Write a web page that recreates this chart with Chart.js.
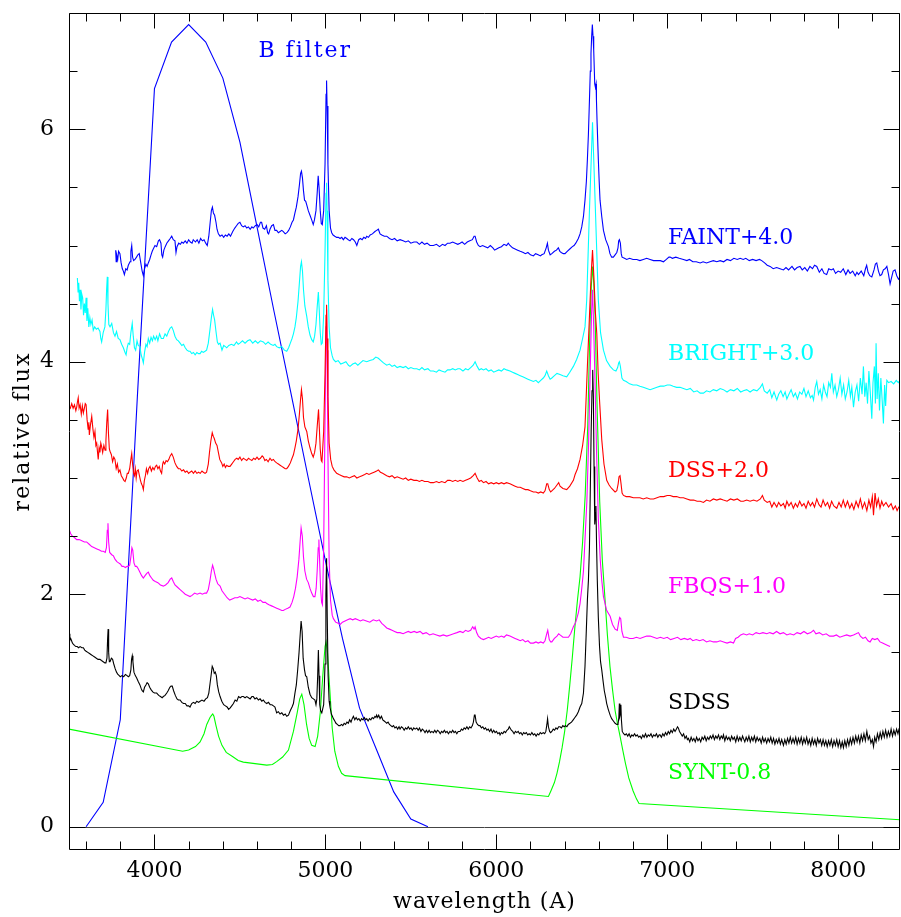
<!DOCTYPE html>
<html>
<head>
<meta charset="utf-8">
<script src="https://cdn.jsdelivr.net/npm/chart.js@4.4.1/dist/chart.umd.min.js"></script>
<style>
html,body{margin:0;padding:0;background:#fff;}
canvas{display:block;}
</style>
</head>
<body>
<canvas id="c" width="901" height="917"></canvas>
<script>
// ---- data: [wavelength (A), relative flux] ----
const faint = [[3773,4.96],[3776,4.86],[3779,4.92],[3785,4.88],[3790,4.95],[3798,4.93],[3805,4.85],[3812,4.80],[3818,4.78],[3824,4.75],[3832,4.80],[3840,4.79],[3847,4.83],[3857,4.86],[3862,4.95],[3867,5.00],[3872,4.90],[3878,4.87],[3886,4.88],[3895,4.90],[3903,4.92],[3911,4.93],[3920,4.85],[3928,4.78],[3935,4.74],[3942,4.80],[3950,4.84],[3957,4.82],[3964,4.85],[3972,4.88],[3980,4.92],[3987,4.95],[3993,4.97],[4003,5.00],[4013,4.99],[4023,5.04],[4030,5.05],[4038,5.02],[4043,4.92],[4048,4.90],[4055,4.96],[4063,4.99],[4072,5.02],[4082,5.04],[4092,5.06],[4101,5.08],[4110,5.05],[4120,5.04],[4126,4.94],[4132,4.99],[4142,5.02],[4152,5.01],[4160,5.03],[4169,5.02],[4180,5.04],[4190,5.02],[4200,5.05],[4210,5.03],[4220,5.02],[4227,5.05],[4240,5.03],[4250,5.05],[4260,5.02],[4270,5.06],[4280,5.04],[4290,5.05],[4300,5.02],[4309,5.00],[4318,5.08],[4326,5.20],[4333,5.30],[4339,5.33],[4345,5.28],[4352,5.26],[4360,5.20],[4366,5.14],[4374,5.10],[4384,5.08],[4395,5.09],[4405,5.07],[4415,5.09],[4425,5.08],[4435,5.10],[4445,5.08],[4458,5.12],[4470,5.15],[4480,5.17],[4490,5.19],[4500,5.20],[4510,5.17],[4520,5.16],[4530,5.17],[4540,5.15],[4550,5.16],[4560,5.14],[4570,5.16],[4578,5.15],[4590,5.17],[4600,5.18],[4610,5.16],[4620,5.20],[4627,5.20],[4635,5.15],[4645,5.14],[4655,5.17],[4662,5.11],[4668,5.10],[4676,5.14],[4686,5.17],[4696,5.18],[4705,5.13],[4715,5.13],[4725,5.11],[4735,5.12],[4745,5.13],[4754,5.12],[4765,5.10],[4775,5.11],[4785,5.13],[4795,5.16],[4805,5.20],[4813,5.22],[4822,5.28],[4830,5.33],[4840,5.42],[4848,5.52],[4855,5.62],[4860,5.64],[4866,5.58],[4872,5.47],[4878,5.39],[4885,5.38],[4891,5.35],[4900,5.30],[4910,5.26],[4920,5.22],[4929,5.18],[4936,5.22],[4945,5.30],[4952,5.45],[4958,5.60],[4963,5.50],[4970,5.30],[4976,5.19],[4982,5.18],[4990,5.30],[4998,5.70],[5004,6.30],[5007,6.42],[5010,6.20],[5015,5.70],[5022,5.30],[5030,5.15],[5037,5.11],[5045,5.09],[5055,5.08],[5066,5.07],[5076,5.07],[5086,5.06],[5096,5.07],[5105,5.05],[5115,5.07],[5125,5.06],[5134,5.05],[5144,5.04],[5155,5.06],[5165,5.05],[5175,5.03],[5184,5.00],[5195,5.05],[5205,5.06],[5215,5.05],[5225,5.07],[5235,5.06],[5242,5.08],[5252,5.07],[5262,5.09],[5275,5.10],[5290,5.12],[5300,5.13],[5310,5.14],[5320,5.10],[5330,5.09],[5345,5.08],[5359,5.08],[5375,5.06],[5390,5.05],[5405,5.06],[5420,5.04],[5437,5.05],[5455,5.04],[5470,5.03],[5485,5.04],[5500,5.02],[5518,5.03],[5535,5.03],[5550,5.01],[5565,5.03],[5580,5.01],[5595,5.02],[5612,5.00],[5632,5.00],[5650,5.01],[5668,4.99],[5685,5.01],[5700,5.00],[5715,5.02],[5729,5.02],[5745,5.03],[5760,5.02],[5775,5.01],[5788,5.02],[5800,5.03],[5815,5.01],[5830,5.03],[5845,5.04],[5860,5.05],[5870,5.08],[5876,5.08],[5885,5.03],[5895,5.00],[5905,4.99],[5920,5.00],[5935,4.99],[5950,4.98],[5965,5.00],[5980,4.98],[5990,4.96],[6002,4.97],[6015,4.98],[6030,4.99],[6045,5.01],[6060,5.00],[6070,5.02],[6080,5.00],[6095,4.98],[6110,4.97],[6125,4.96],[6140,4.95],[6158,4.94],[6170,4.93],[6185,4.94],[6200,4.92],[6217,4.91],[6230,4.93],[6245,4.92],[6258,4.91],[6266,4.92],[6280,4.93],[6292,4.98],[6299,5.02],[6305,4.96],[6315,4.92],[6325,4.93],[6340,4.95],[6352,4.96],[6363,4.98],[6372,4.95],[6380,4.94],[6392,4.93],[6402,4.93],[6415,4.95],[6430,4.97],[6445,4.99],[6455,5.00],[6465,5.02],[6480,5.06],[6490,5.10],[6500,5.16],[6510,5.25],[6519,5.39],[6527,5.55],[6533,5.74],[6539,5.96],[6545,6.25],[6550,6.50],[6554,6.65],[6558,6.80],[6562,6.90],[6566,6.80],[6570,6.68],[6576,6.39],[6580,6.36],[6584,6.39],[6586,6.25],[6590,6.05],[6597,5.74],[6602,5.55],[6607,5.39],[6617,5.25],[6627,5.13],[6640,5.05],[6656,4.99],[6665,4.93],[6675,4.90],[6685,4.90],[6695,4.92],[6705,4.94],[6712,4.98],[6716,5.04],[6720,5.05],[6726,5.02],[6731,4.93],[6736,4.90],[6750,4.89],[6763,4.88],[6780,4.89],[6800,4.88],[6822,4.88],[6840,4.87],[6860,4.88],[6880,4.89],[6900,4.88],[6920,4.87],[6940,4.87],[6960,4.87],[6978,4.86],[6995,4.88],[7010,4.90],[7017,4.90],[7030,4.89],[7050,4.90],[7070,4.89],[7095,4.88],[7115,4.87],[7130,4.88],[7150,4.86],[7170,4.86],[7193,4.85],[7210,4.86],[7230,4.85],[7250,4.86],[7270,4.87],[7290,4.86],[7310,4.87],[7330,4.86],[7350,4.88],[7370,4.87],[7390,4.89],[7410,4.88],[7427,4.89],[7445,4.88],[7460,4.89],[7480,4.87],[7500,4.88],[7520,4.87],[7540,4.88],[7553,4.87],[7570,4.85],[7585,4.83],[7602,4.82],[7620,4.80],[7640,4.81],[7660,4.80],[7680,4.79],[7695,4.81],[7710,4.79],[7730,4.82],[7745,4.79],[7760,4.81],[7777,4.82],[7790,4.79],[7805,4.81],[7820,4.78],[7835,4.82],[7850,4.80],[7862,4.83],[7875,4.82],[7890,4.77],[7905,4.80],[7918,4.76],[7933,4.75],[7945,4.80],[7960,4.79],[7972,4.80],[7985,4.76],[8000,4.78],[8015,4.77],[8030,4.80],[8045,4.75],[8058,4.79],[8070,4.76],[8085,4.78],[8100,4.74],[8110,4.77],[8119,4.75],[8135,4.78],[8150,4.74],[8160,4.80],[8167,4.83],[8175,4.77],[8185,4.74],[8197,4.73],[8210,4.79],[8218,4.84],[8226,4.85],[8236,4.78],[8245,4.74],[8255,4.75],[8265,4.79],[8275,4.80],[8285,4.82],[8295,4.75],[8304,4.67],[8312,4.72],[8322,4.78],[8333,4.79],[8343,4.74],[8353,4.71],[8362,4.73]];

const bright = [[3549,4.72],[3553,4.60],[3557,4.68],[3561,4.52],[3565,4.62],[3570,4.45],[3575,4.58],[3580,4.55],[3585,4.40],[3590,4.50],[3595,4.42],[3600,4.55],[3605,4.35],[3610,4.46],[3616,4.30],[3622,4.38],[3628,4.32],[3635,4.36],[3642,4.27],[3650,4.30],[3660,4.28],[3670,4.29],[3681,4.26],[3686,4.20],[3691,4.17],[3700,4.25],[3710,4.30],[3716,4.45],[3720,4.62],[3724,4.73],[3728,4.50],[3733,4.32],[3740,4.30],[3750,4.33],[3760,4.25],[3769,4.22],[3778,4.26],[3788,4.20],[3798,4.19],[3808,4.15],[3818,4.12],[3828,4.08],[3834,4.06],[3840,4.12],[3847,4.16],[3855,4.15],[3862,4.25],[3870,4.33],[3876,4.22],[3883,4.12],[3890,4.10],[3898,4.18],[3905,4.14],[3915,4.13],[3922,4.06],[3930,4.02],[3935,3.99],[3942,4.08],[3950,4.15],[3957,4.13],[3964,4.20],[3972,4.16],[3980,4.21],[3988,4.18],[3995,4.22],[4004,4.19],[4013,4.22],[4020,4.18],[4030,4.24],[4040,4.20],[4052,4.20],[4062,4.24],[4072,4.22],[4082,4.26],[4092,4.29],[4101,4.30],[4110,4.27],[4120,4.22],[4130,4.19],[4140,4.18],[4150,4.16],[4160,4.14],[4170,4.15],[4180,4.12],[4190,4.10],[4200,4.09],[4208,4.09],[4218,4.07],[4228,4.08],[4238,4.06],[4248,4.08],[4258,4.07],[4267,4.07],[4276,4.09],[4286,4.08],[4296,4.09],[4305,4.10],[4315,4.16],[4325,4.28],[4333,4.38],[4340,4.45],[4346,4.40],[4352,4.36],[4360,4.26],[4368,4.17],[4375,4.15],[4384,4.16],[4395,4.10],[4405,4.14],[4415,4.13],[4423,4.12],[4435,4.14],[4450,4.15],[4465,4.14],[4480,4.17],[4490,4.15],[4500,4.16],[4515,4.18],[4530,4.16],[4545,4.18],[4559,4.19],[4575,4.16],[4590,4.18],[4605,4.16],[4620,4.18],[4637,4.17],[4650,4.15],[4665,4.17],[4680,4.15],[4695,4.14],[4705,4.15],[4715,4.13],[4730,4.12],[4745,4.13],[4760,4.10],[4774,4.09],[4785,4.12],[4795,4.16],[4805,4.20],[4813,4.24],[4822,4.30],[4830,4.38],[4840,4.52],[4848,4.68],[4855,4.82],[4860,4.86],[4866,4.78],[4872,4.62],[4880,4.48],[4891,4.39],[4900,4.30],[4910,4.23],[4920,4.19],[4929,4.17],[4937,4.22],[4945,4.32],[4952,4.47],[4959,4.60],[4964,4.45],[4970,4.25],[4976,4.15],[4982,4.16],[4990,4.40],[4998,4.95],[5004,5.45],[5007,5.54],[5010,5.30],[5015,4.70],[5022,4.30],[5030,4.12],[5040,4.05],[5047,4.02],[5060,4.00],[5075,4.01],[5090,3.98],[5105,3.99],[5120,4.00],[5135,3.97],[5144,3.96],[5160,3.98],[5175,3.99],[5190,3.97],[5205,3.99],[5220,4.01],[5242,4.00],[5260,4.01],[5280,4.02],[5295,4.04],[5310,4.03],[5325,4.01],[5340,3.99],[5359,3.97],[5375,3.98],[5390,3.96],[5405,3.97],[5420,3.95],[5437,3.96],[5455,3.95],[5470,3.96],[5485,3.94],[5500,3.95],[5518,3.94],[5535,3.94],[5550,3.93],[5565,3.95],[5580,3.93],[5600,3.94],[5615,3.92],[5632,3.92],[5650,3.91],[5665,3.93],[5680,3.92],[5700,3.91],[5715,3.93],[5729,3.93],[5745,3.94],[5760,3.93],[5775,3.94],[5788,3.94],[5805,3.92],[5820,3.94],[5835,3.93],[5850,3.95],[5865,3.97],[5876,4.00],[5888,3.96],[5900,3.93],[5912,3.94],[5925,3.93],[5940,3.94],[5955,3.92],[5970,3.93],[5985,3.91],[6000,3.92],[6015,3.93],[6030,3.92],[6045,3.94],[6060,3.93],[6080,3.92],[6095,3.91],[6110,3.90],[6125,3.89],[6140,3.88],[6155,3.87],[6170,3.86],[6185,3.85],[6200,3.84],[6217,3.83],[6232,3.84],[6246,3.82],[6260,3.84],[6275,3.86],[6285,3.88],[6295,3.92],[6305,3.88],[6315,3.85],[6325,3.86],[6340,3.88],[6355,3.90],[6373,3.89],[6390,3.88],[6412,3.87],[6430,3.91],[6451,3.96],[6470,4.02],[6490,4.10],[6505,4.20],[6519,4.30],[6529,4.53],[6545,5.30],[6563,6.06],[6580,5.30],[6597,4.53],[6610,4.25],[6627,4.10],[6645,4.01],[6666,3.96],[6685,3.93],[6700,3.92],[6710,3.95],[6716,3.99],[6720,4.00],[6726,3.96],[6735,3.86],[6744,3.84],[6760,3.83],[6780,3.81],[6800,3.80],[6822,3.80],[6840,3.79],[6860,3.78],[6880,3.77],[6900,3.76],[6920,3.77],[6940,3.78],[6960,3.79],[6980,3.79],[7000,3.80],[7017,3.80],[7035,3.79],[7055,3.78],[7075,3.78],[7095,3.77],[7115,3.76],[7135,3.77],[7155,3.74],[7175,3.75],[7193,3.73],[7212,3.73],[7230,3.75],[7250,3.74],[7270,3.76],[7290,3.75],[7310,3.77],[7329,3.76],[7350,3.74],[7370,3.76],[7390,3.75],[7410,3.77],[7430,3.74],[7446,3.75],[7465,3.76],[7485,3.74],[7505,3.76],[7525,3.75],[7545,3.78],[7557,3.81],[7568,3.75],[7585,3.73],[7600,3.76],[7612,3.69],[7625,3.74],[7641,3.67],[7652,3.72],[7665,3.75],[7678,3.70],[7690,3.74],[7700,3.68],[7712,3.72],[7725,3.76],[7738,3.70],[7750,3.73],[7762,3.68],[7775,3.74],[7788,3.72],[7800,3.77],[7812,3.70],[7825,3.75],[7838,3.69],[7848,3.71],[7856,3.67],[7866,3.78],[7875,3.83],[7885,3.72],[7895,3.76],[7905,3.68],[7915,3.80],[7925,3.74],[7935,3.70],[7945,3.82],[7955,3.78],[7963,3.90],[7972,3.74],[7982,3.80],[7992,3.70],[8002,3.76],[8012,3.86],[8022,3.72],[8032,3.80],[8042,3.68],[8052,3.74],[8062,3.84],[8072,3.70],[8080,3.78],[8090,3.61],[8100,3.74],[8110,3.80],[8120,3.66],[8130,3.86],[8140,3.72],[8148,3.96],[8156,3.70],[8164,3.82],[8172,3.64],[8180,3.92],[8188,3.74],[8197,3.51],[8204,3.82],[8212,3.96],[8218,3.64],[8222,4.16],[8228,3.68],[8235,3.90],[8242,3.58],[8250,3.86],[8258,3.66],[8265,3.47],[8272,3.80],[8278,3.62],[8285,3.84],[8295,3.82],[8310,3.83],[8325,3.81],[8340,3.84],[8352,3.82],[8362,3.84]];

const dss = [[3500,3.62],[3508,3.60],[3516,3.64],[3524,3.60],[3532,3.63],[3540,3.58],[3545,3.61],[3550,3.66],[3554,3.69],[3559,3.60],[3565,3.63],[3572,3.55],[3578,3.62],[3584,3.56],[3590,3.60],[3595,3.64],[3600,3.63],[3606,3.50],[3612,3.42],[3616,3.48],[3619,3.37],[3625,3.45],[3633,3.53],[3640,3.42],[3646,3.35],[3652,3.40],[3657,3.28],[3662,3.30],[3667,3.22],[3671,3.16],[3676,3.26],[3681,3.22],[3686,3.30],[3691,3.27],[3697,3.22],[3704,3.28],[3711,3.24],[3716,3.32],[3721,3.48],[3726,3.59],[3731,3.38],[3736,3.25],[3740,3.23],[3748,3.20],[3755,3.14],[3762,3.18],[3769,3.16],[3776,3.08],[3783,3.12],[3790,3.05],[3798,3.07],[3806,3.02],[3814,3.00],[3821,2.98],[3828,2.97],[3835,3.00],[3841,3.04],[3847,3.04],[3855,3.08],[3862,3.16],[3867,3.21],[3872,3.12],[3878,3.04],[3883,3.02],[3888,3.08],[3893,3.00],[3898,3.06],[3905,3.07],[3912,3.02],[3918,2.98],[3924,2.95],[3930,2.93],[3935,2.90],[3941,2.98],[3947,3.02],[3953,3.08],[3960,3.04],[3966,3.08],[3974,3.10],[3982,3.06],[3990,3.09],[3998,3.07],[4006,3.10],[4013,3.11],[4020,3.08],[4028,3.10],[4035,3.06],[4042,3.04],[4048,3.12],[4052,3.14],[4060,3.12],[4068,3.15],[4076,3.14],[4084,3.16],[4092,3.19],[4101,3.21],[4110,3.18],[4120,3.13],[4130,3.10],[4140,3.08],[4150,3.08],[4160,3.06],[4170,3.07],[4180,3.05],[4190,3.06],[4200,3.04],[4208,3.05],[4218,3.06],[4228,3.04],[4238,3.06],[4248,3.04],[4258,3.05],[4268,3.04],[4278,3.06],[4286,3.05],[4296,3.04],[4305,3.05],[4315,3.12],[4322,3.22],[4330,3.32],[4338,3.39],[4344,3.36],[4350,3.34],[4358,3.30],[4366,3.28],[4374,3.22],[4382,3.16],[4393,3.13],[4400,3.10],[4408,3.12],[4415,3.09],[4423,3.11],[4432,3.10],[4442,3.10],[4452,3.12],[4462,3.14],[4472,3.16],[4482,3.17],[4490,3.16],[4500,3.18],[4510,3.15],[4520,3.17],[4530,3.16],[4540,3.15],[4550,3.17],[4559,3.16],[4570,3.15],[4580,3.17],[4590,3.16],[4600,3.18],[4610,3.16],[4620,3.17],[4630,3.19],[4637,3.18],[4646,3.15],[4655,3.16],[4665,3.14],[4676,3.17],[4686,3.15],[4696,3.16],[4706,3.14],[4715,3.13],[4725,3.12],[4735,3.11],[4745,3.10],[4755,3.09],[4765,3.08],[4774,3.08],[4784,3.10],[4795,3.13],[4805,3.17],[4813,3.20],[4822,3.26],[4830,3.32],[4840,3.42],[4848,3.55],[4855,3.68],[4860,3.76],[4866,3.68],[4872,3.52],[4880,3.44],[4891,3.40],[4900,3.32],[4910,3.26],[4920,3.21],[4929,3.18],[4937,3.22],[4945,3.30],[4952,3.44],[4960,3.59],[4965,3.42],[4970,3.25],[4976,3.15],[4980,3.14],[4990,3.40],[4998,3.90],[5004,4.40],[5007,4.49],[5010,4.20],[5015,3.70],[5022,3.30],[5031,3.16],[5040,3.10],[5050,3.07],[5066,3.04],[5080,3.03],[5095,3.02],[5110,3.01],[5125,3.01],[5140,3.00],[5155,3.01],[5170,3.02],[5184,3.00],[5200,3.01],[5215,3.02],[5230,3.03],[5242,3.04],[5255,3.03],[5270,3.04],[5285,3.05],[5300,3.06],[5310,3.07],[5322,3.05],[5335,3.04],[5347,3.03],[5359,3.02],[5375,3.01],[5390,3.02],[5405,3.00],[5420,3.01],[5437,3.00],[5455,2.99],[5470,3.00],[5485,2.98],[5500,2.99],[5518,2.98],[5535,2.98],[5550,2.97],[5565,2.98],[5580,2.97],[5600,2.97],[5615,2.96],[5632,2.96],[5650,2.97],[5665,2.96],[5680,2.97],[5700,2.96],[5715,2.98],[5729,2.98],[5745,2.97],[5760,2.98],[5775,2.97],[5788,2.98],[5805,2.97],[5820,2.98],[5835,2.99],[5850,3.00],[5865,3.02],[5876,3.04],[5888,3.00],[5900,2.97],[5912,2.98],[5925,2.96],[5940,2.97],[5955,2.95],[5970,2.96],[5985,2.95],[6000,2.96],[6015,2.95],[6030,2.96],[6045,2.95],[6060,2.96],[6080,2.95],[6095,2.94],[6110,2.93],[6125,2.92],[6140,2.92],[6155,2.91],[6170,2.90],[6185,2.90],[6200,2.89],[6217,2.88],[6232,2.88],[6246,2.87],[6260,2.88],[6275,2.87],[6285,2.89],[6295,2.95],[6301,2.95],[6310,2.90],[6318,2.88],[6325,2.89],[6340,2.91],[6355,2.94],[6365,2.96],[6373,2.93],[6390,2.91],[6412,2.90],[6430,2.93],[6451,2.98],[6461,3.03],[6475,3.08],[6490,3.16],[6505,3.28],[6519,3.44],[6533,3.96],[6545,4.39],[6555,4.75],[6563,4.96],[6572,4.70],[6580,4.42],[6588,4.24],[6596,3.90],[6604,3.67],[6617,3.33],[6630,3.12],[6646,2.98],[6660,2.94],[6675,2.91],[6695,2.88],[6705,2.89],[6713,2.95],[6718,3.01],[6724,3.02],[6730,2.95],[6736,2.87],[6744,2.85],[6760,2.84],[6780,2.84],[6802,2.83],[6820,2.83],[6840,2.83],[6860,2.82],[6880,2.83],[6900,2.82],[6920,2.82],[6940,2.83],[6960,2.84],[6980,2.84],[7000,2.85],[7017,2.85],[7035,2.84],[7055,2.84],[7075,2.83],[7095,2.83],[7115,2.82],[7135,2.81],[7155,2.81],[7175,2.80],[7193,2.80],[7212,2.79],[7230,2.81],[7250,2.80],[7270,2.82],[7290,2.81],[7310,2.82],[7329,2.81],[7350,2.80],[7370,2.82],[7390,2.81],[7410,2.82],[7430,2.80],[7446,2.80],[7465,2.81],[7485,2.80],[7505,2.81],[7525,2.80],[7545,2.82],[7557,2.85],[7568,2.81],[7585,2.79],[7600,2.80],[7612,2.75],[7625,2.79],[7641,2.75],[7652,2.79],[7665,2.76],[7680,2.78],[7690,2.74],[7700,2.80],[7712,2.76],[7725,2.79],[7738,2.74],[7750,2.78],[7762,2.75],[7775,2.80],[7788,2.76],[7800,2.78],[7812,2.74],[7825,2.80],[7838,2.76],[7850,2.79],[7862,2.75],[7875,2.82],[7888,2.77],[7900,2.75],[7912,2.81],[7925,2.76],[7938,2.79],[7950,2.74],[7962,2.80],[7975,2.76],[7992,2.74],[8005,2.79],[8018,2.75],[8030,2.81],[8042,2.75],[8055,2.80],[8068,2.74],[8080,2.78],[8092,2.73],[8105,2.80],[8118,2.75],[8130,2.82],[8142,2.74],[8155,2.79],[8168,2.72],[8180,2.81],[8190,2.75],[8200,2.84],[8207,2.68],[8216,2.87],[8225,2.76],[8235,2.82],[8245,2.74],[8255,2.80],[8265,2.76],[8280,2.79],[8295,2.75],[8310,2.78],[8322,2.73],[8335,2.76],[8345,2.72],[8355,2.75],[8362,2.74]];

const fbqs = [[3500,2.56],[3510,2.52],[3520,2.50],[3530,2.49],[3545,2.47],[3560,2.47],[3575,2.46],[3590,2.45],[3603,2.45],[3618,2.43],[3633,2.41],[3648,2.40],[3663,2.39],[3678,2.38],[3690,2.37],[3701,2.37],[3712,2.36],[3719,2.40],[3724,2.55],[3728,2.61],[3732,2.45],[3738,2.36],[3750,2.34],[3760,2.33],[3770,2.30],[3780,2.28],[3790,2.27],[3800,2.26],[3810,2.24],[3818,2.24],[3830,2.23],[3840,2.24],[3847,2.24],[3855,2.25],[3862,2.32],[3868,2.40],[3873,2.38],[3880,2.27],[3888,2.24],[3896,2.24],[3905,2.22],[3915,2.19],[3925,2.16],[3935,2.14],[3945,2.16],[3955,2.18],[3964,2.19],[3973,2.16],[3983,2.14],[3993,2.12],[4005,2.11],[4020,2.10],[4035,2.08],[4052,2.07],[4065,2.08],[4080,2.10],[4092,2.13],[4101,2.14],[4110,2.11],[4120,2.08],[4135,2.06],[4150,2.04],[4165,2.02],[4180,2.00],[4195,1.99],[4208,1.98],[4220,1.99],[4235,2.01],[4250,2.00],[4267,2.01],[4280,2.00],[4295,2.01],[4305,2.01],[4315,2.04],[4325,2.12],[4333,2.20],[4340,2.25],[4346,2.22],[4352,2.18],[4360,2.13],[4370,2.09],[4384,2.07],[4395,2.03],[4410,2.00],[4425,1.97],[4440,1.95],[4455,1.96],[4470,1.97],[4485,1.97],[4500,1.98],[4515,1.97],[4530,1.96],[4545,1.97],[4560,1.96],[4575,1.95],[4590,1.96],[4605,1.94],[4620,1.95],[4635,1.93],[4650,1.93],[4657,1.92],[4670,1.91],[4685,1.90],[4700,1.89],[4715,1.88],[4730,1.87],[4745,1.86],[4754,1.86],[4765,1.87],[4780,1.88],[4793,1.89],[4805,1.93],[4815,1.98],[4825,2.05],[4835,2.15],[4845,2.30],[4852,2.45],[4858,2.57],[4865,2.50],[4872,2.32],[4880,2.20],[4890,2.13],[4900,2.10],[4910,2.05],[4920,2.01],[4930,1.98],[4939,1.98],[4946,2.05],[4952,2.20],[4958,2.40],[4962,2.47],[4966,2.30],[4972,2.05],[4978,1.93],[4983,1.91],[4990,2.40],[4998,3.50],[5004,4.30],[5007,4.45],[5010,4.10],[5015,3.20],[5022,2.30],[5030,1.95],[5040,1.82],[5047,1.79],[5060,1.76],[5075,1.75],[5086,1.74],[5100,1.76],[5115,1.77],[5130,1.78],[5145,1.79],[5160,1.78],[5175,1.79],[5190,1.78],[5205,1.77],[5220,1.78],[5240,1.77],[5260,1.76],[5280,1.78],[5300,1.77],[5315,1.78],[5330,1.75],[5345,1.73],[5359,1.71],[5375,1.70],[5390,1.69],[5405,1.68],[5420,1.67],[5437,1.67],[5455,1.66],[5470,1.67],[5485,1.68],[5500,1.67],[5520,1.68],[5535,1.67],[5554,1.68],[5570,1.66],[5590,1.67],[5610,1.65],[5630,1.66],[5650,1.65],[5670,1.64],[5690,1.65],[5710,1.64],[5730,1.65],[5750,1.66],[5770,1.67],[5788,1.68],[5805,1.67],[5820,1.69],[5835,1.68],[5850,1.69],[5862,1.72],[5870,1.70],[5876,1.72],[5885,1.67],[5895,1.64],[5910,1.62],[5925,1.61],[5940,1.62],[5955,1.63],[5970,1.62],[5985,1.63],[6000,1.64],[6015,1.63],[6030,1.64],[6045,1.63],[6060,1.65],[6080,1.64],[6095,1.63],[6110,1.62],[6125,1.61],[6140,1.60],[6155,1.61],[6170,1.59],[6185,1.60],[6200,1.58],[6217,1.58],[6232,1.59],[6246,1.58],[6260,1.59],[6275,1.58],[6285,1.60],[6295,1.66],[6301,1.69],[6310,1.61],[6318,1.59],[6325,1.59],[6340,1.62],[6355,1.64],[6365,1.66],[6373,1.65],[6390,1.63],[6410,1.63],[6422,1.63],[6435,1.66],[6451,1.72],[6465,1.76],[6480,1.84],[6490,1.92],[6500,2.05],[6510,2.20],[6520,2.50],[6530,2.80],[6540,3.30],[6550,3.95],[6557,4.40],[6563,4.62],[6570,4.30],[6578,3.80],[6587,3.20],[6597,2.65],[6608,2.30],[6617,2.12],[6627,1.98],[6646,1.86],[6666,1.81],[6680,1.74],[6695,1.70],[6708,1.69],[6716,1.76],[6722,1.80],[6728,1.79],[6735,1.68],[6744,1.63],[6760,1.63],[6780,1.62],[6800,1.62],[6820,1.63],[6841,1.62],[6860,1.63],[6880,1.64],[6900,1.64],[6920,1.63],[6940,1.62],[6960,1.63],[6980,1.62],[7000,1.63],[7020,1.61],[7040,1.62],[7060,1.63],[7080,1.61],[7100,1.62],[7120,1.61],[7134,1.62],[7150,1.60],[7170,1.61],[7190,1.60],[7210,1.61],[7230,1.59],[7250,1.60],[7270,1.59],[7290,1.59],[7310,1.60],[7330,1.59],[7350,1.58],[7370,1.59],[7388,1.58],[7400,1.62],[7415,1.63],[7430,1.65],[7446,1.66],[7465,1.65],[7480,1.66],[7500,1.65],[7520,1.67],[7540,1.66],[7560,1.67],[7583,1.66],[7600,1.67],[7620,1.66],[7640,1.68],[7660,1.66],[7680,1.67],[7700,1.65],[7719,1.66],[7740,1.65],[7760,1.67],[7780,1.66],[7800,1.68],[7820,1.66],[7840,1.67],[7856,1.69],[7870,1.66],[7890,1.67],[7910,1.65],[7930,1.66],[7950,1.64],[7973,1.64],[7990,1.65],[8010,1.63],[8030,1.64],[8050,1.65],[8070,1.64],[8090,1.65],[8105,1.66],[8119,1.67],[8130,1.64],[8145,1.62],[8160,1.63],[8175,1.60],[8187,1.59],[8200,1.62],[8215,1.61],[8230,1.62],[8245,1.59],[8260,1.58],[8275,1.57],[8290,1.56],[8304,1.55]];

const sdss = [[3500,1.66],[3505,1.63],[3510,1.62],[3515,1.60],[3520,1.58],[3525,1.57],[3532,1.56],[3540,1.55],[3548,1.55],[3556,1.54],[3565,1.55],[3575,1.54],[3584,1.54],[3592,1.52],[3600,1.51],[3610,1.50],[3620,1.49],[3630,1.48],[3640,1.47],[3650,1.46],[3660,1.45],[3670,1.44],[3681,1.44],[3690,1.43],[3700,1.42],[3710,1.41],[3716,1.41],[3722,1.45],[3726,1.62],[3729,1.70],[3732,1.50],[3736,1.42],[3740,1.42],[3748,1.45],[3755,1.44],[3762,1.40],[3770,1.36],[3778,1.33],[3786,1.31],[3794,1.30],[3800,1.29],[3810,1.30],[3820,1.29],[3830,1.31],[3840,1.30],[3847,1.29],[3855,1.30],[3862,1.35],[3866,1.44],[3870,1.47],[3874,1.42],[3880,1.33],[3888,1.30],[3896,1.28],[3905,1.25],[3915,1.22],[3922,1.19],[3928,1.17],[3935,1.16],[3942,1.20],[3950,1.22],[3957,1.24],[3964,1.23],[3972,1.20],[3980,1.18],[3990,1.16],[4000,1.15],[4013,1.15],[4025,1.13],[4035,1.12],[4045,1.11],[4052,1.12],[4062,1.13],[4072,1.15],[4080,1.17],[4090,1.20],[4097,1.21],[4104,1.21],[4112,1.17],[4122,1.13],[4132,1.10],[4140,1.09],[4150,1.09],[4160,1.07],[4170,1.06],[4180,1.06],[4190,1.04],[4200,1.04],[4208,1.03],[4218,1.06],[4228,1.07],[4238,1.06],[4248,1.08],[4258,1.07],[4267,1.08],[4278,1.09],[4290,1.08],[4300,1.10],[4310,1.11],[4318,1.15],[4325,1.23],[4332,1.31],[4338,1.38],[4344,1.36],[4350,1.32],[4356,1.33],[4362,1.30],[4368,1.22],[4376,1.16],[4384,1.12],[4394,1.08],[4405,1.05],[4415,1.04],[4425,1.03],[4434,1.01],[4442,1.02],[4452,1.04],[4462,1.06],[4472,1.09],[4482,1.08],[4492,1.12],[4502,1.11],[4512,1.12],[4520,1.12],[4530,1.11],[4540,1.12],[4550,1.11],[4560,1.10],[4570,1.12],[4578,1.12],[4588,1.10],[4598,1.11],[4608,1.09],[4618,1.10],[4628,1.08],[4637,1.09],[4647,1.07],[4657,1.06],[4667,1.07],[4677,1.05],[4687,1.05],[4696,1.04],[4705,1.03],[4715,0.98],[4725,0.99],[4735,0.97],[4745,0.98],[4755,0.96],[4765,0.97],[4774,0.95],[4784,0.96],[4795,1.00],[4805,1.03],[4813,1.06],[4822,1.15],[4830,1.22],[4838,1.35],[4846,1.50],[4853,1.66],[4858,1.77],[4864,1.68],[4870,1.45],[4878,1.35],[4884,1.30],[4891,1.29],[4900,1.20],[4910,1.14],[4920,1.11],[4930,1.10],[4939,1.09],[4945,1.05],[4950,1.10],[4955,1.30],[4959,1.52],[4963,1.30],[4967,1.05],[4972,1.00],[4979,0.98],[4990,1.05],[4998,1.40],[5003,2.00],[5007,2.31],[5011,1.80],[5016,1.30],[5022,1.08],[5027,1.03],[5035,0.97],[5041,0.95],[5047,0.93],[5055,0.91],[5062,0.89],[5070,0.88],[5078,0.87],[5086,0.87],[5094,0.88],[5102,0.87],[5110,0.89],[5118,0.88],[5126,0.90],[5134,0.89],[5142,0.92],[5150,0.90],[5157,0.93],[5164,0.95],[5172,0.92],[5180,0.94],[5188,0.92],[5196,0.93],[5204,0.91],[5212,0.93],[5220,0.92],[5228,0.94],[5236,0.92],[5242,0.93],[5250,0.91],[5258,0.93],[5266,0.92],[5274,0.94],[5282,0.93],[5290,0.95],[5296,0.94],[5300,0.96],[5306,0.94],[5312,0.96],[5320,0.93],[5328,0.95],[5336,0.92],[5344,0.91],[5352,0.90],[5359,0.89],[5367,0.90],[5375,0.88],[5383,0.87],[5391,0.86],[5399,0.87],[5407,0.85],[5415,0.86],[5423,0.84],[5431,0.86],[5437,0.84],[5445,0.86],[5453,0.85],[5461,0.83],[5469,0.85],[5477,0.84],[5485,0.86],[5493,0.84],[5501,0.85],[5509,0.83],[5517,0.85],[5525,0.84],[5535,0.85],[5543,0.83],[5551,0.85],[5559,0.82],[5567,0.84],[5575,0.83],[5583,0.81],[5591,0.83],[5599,0.81],[5607,0.83],[5615,0.81],[5623,0.82],[5632,0.81],[5640,0.83],[5648,0.81],[5656,0.83],[5664,0.82],[5672,0.80],[5680,0.82],[5688,0.81],[5696,0.83],[5704,0.81],[5712,0.82],[5720,0.80],[5729,0.82],[5737,0.81],[5745,0.83],[5753,0.81],[5761,0.82],[5769,0.80],[5777,0.82],[5788,0.82],[5796,0.84],[5804,0.83],[5812,0.85],[5820,0.84],[5828,0.86],[5836,0.84],[5844,0.86],[5852,0.85],[5860,0.87],[5866,0.90],[5872,0.96],[5876,0.96],[5882,0.90],[5890,0.88],[5898,0.87],[5905,0.87],[5913,0.85],[5921,0.86],[5929,0.84],[5937,0.85],[5945,0.83],[5953,0.84],[5961,0.82],[5969,0.84],[5977,0.81],[5985,0.83],[5993,0.81],[6001,0.82],[6009,0.80],[6017,0.81],[6022,0.79],[6030,0.81],[6038,0.80],[6046,0.82],[6054,0.81],[6062,0.83],[6070,0.84],[6076,0.86],[6080,0.86],[6088,0.83],[6096,0.82],[6104,0.80],[6112,0.82],[6120,0.81],[6128,0.82],[6136,0.80],[6144,0.81],[6152,0.79],[6160,0.81],[6168,0.80],[6176,0.81],[6184,0.79],[6192,0.80],[6200,0.79],[6208,0.81],[6217,0.79],[6225,0.80],[6233,0.78],[6241,0.80],[6249,0.79],[6257,0.81],[6265,0.80],[6275,0.81],[6283,0.80],[6290,0.82],[6296,0.88],[6300,0.93],[6305,0.86],[6312,0.82],[6318,0.81],[6325,0.82],[6333,0.84],[6341,0.83],[6349,0.85],[6357,0.84],[6365,0.86],[6373,0.86],[6381,0.85],[6389,0.87],[6397,0.86],[6405,0.87],[6413,0.86],[6421,0.88],[6431,0.89],[6440,0.90],[6450,0.92],[6460,0.94],[6470,0.96],[6480,0.99],[6490,1.03],[6500,1.06],[6510,1.15],[6519,1.38],[6527,1.70],[6533,1.95],[6539,2.12],[6545,2.40],[6550,2.90],[6555,3.40],[6560,3.75],[6564,3.93],[6568,3.70],[6572,3.10],[6576,2.60],[6580,2.70],[6583,2.76],[6587,2.40],[6591,2.12],[6597,1.80],[6604,1.55],[6610,1.42],[6617,1.35],[6625,1.25],[6632,1.17],[6640,1.11],[6646,1.06],[6655,1.01],[6666,0.96],[6675,0.93],[6685,0.91],[6695,0.89],[6705,0.88],[6712,0.88],[6717,0.94],[6720,1.06],[6723,0.95],[6726,0.97],[6729,1.05],[6732,0.92],[6737,0.82],[6745,0.80],[6753,0.79],[6761,0.80],[6769,0.78],[6777,0.80],[6785,0.77],[6793,0.79],[6801,0.78],[6809,0.80],[6817,0.78],[6825,0.79],[6833,0.77],[6841,0.78],[6849,0.76],[6857,0.79],[6865,0.77],[6873,0.80],[6881,0.77],[6889,0.79],[6897,0.78],[6905,0.80],[6913,0.77],[6921,0.79],[6929,0.78],[6937,0.80],[6945,0.77],[6953,0.79],[6958,0.79],[6966,0.77],[6974,0.80],[6982,0.78],[6990,0.81],[6998,0.79],[7006,0.82],[7014,0.80],[7022,0.83],[7030,0.81],[7038,0.84],[7046,0.82],[7054,0.84],[7060,0.86],[7065,0.85],[7072,0.82],[7080,0.80],[7088,0.78],[7096,0.80],[7104,0.76],[7112,0.78],[7118,0.75],[7124,0.76],[7132,0.73],[7140,0.77],[7148,0.74],[7156,0.76],[7164,0.73],[7172,0.77],[7180,0.74],[7188,0.76],[7196,0.73],[7204,0.77],[7212,0.75],[7220,0.78],[7228,0.74],[7236,0.77],[7244,0.75],[7252,0.78],[7260,0.76],[7268,0.79],[7276,0.75],[7284,0.78],[7292,0.76],[7300,0.79],[7308,0.75],[7316,0.78],[7324,0.76],[7329,0.79],[7337,0.74],[7345,0.78],[7353,0.75],[7361,0.77],[7369,0.74],[7377,0.78],[7385,0.75],[7393,0.77],[7401,0.73],[7409,0.78],[7417,0.74],[7425,0.77],[7433,0.74],[7441,0.78],[7446,0.76],[7454,0.73],[7462,0.77],[7470,0.74],[7478,0.78],[7486,0.73],[7494,0.77],[7502,0.74],[7510,0.78],[7518,0.73],[7526,0.77],[7534,0.74],[7542,0.76],[7550,0.72],[7558,0.77],[7566,0.73],[7574,0.76],[7582,0.72],[7590,0.76],[7598,0.73],[7606,0.77],[7614,0.72],[7622,0.76],[7630,0.71],[7638,0.75],[7646,0.72],[7654,0.76],[7662,0.71],[7670,0.75],[7680,0.70],[7688,0.75],[7696,0.71],[7704,0.76],[7712,0.72],[7720,0.77],[7728,0.72],[7736,0.76],[7744,0.72],[7752,0.77],[7760,0.71],[7768,0.76],[7776,0.72],[7784,0.77],[7792,0.71],[7800,0.76],[7808,0.72],[7816,0.77],[7824,0.71],[7832,0.75],[7840,0.70],[7848,0.76],[7856,0.71],[7864,0.75],[7872,0.70],[7880,0.76],[7888,0.72],[7896,0.75],[7904,0.70],[7912,0.75],[7920,0.70],[7928,0.74],[7936,0.69],[7944,0.74],[7952,0.70],[7960,0.75],[7968,0.69],[7976,0.74],[7984,0.70],[7992,0.75],[8000,0.69],[8008,0.74],[8016,0.68],[8024,0.73],[8031,0.68],[8039,0.74],[8047,0.69],[8055,0.75],[8063,0.70],[8071,0.76],[8079,0.71],[8087,0.77],[8095,0.72],[8103,0.78],[8111,0.73],[8119,0.78],[8127,0.72],[8135,0.79],[8143,0.74],[8151,0.80],[8159,0.74],[8168,0.82],[8176,0.75],[8184,0.78],[8192,0.72],[8200,0.75],[8207,0.69],[8214,0.77],[8222,0.73],[8230,0.80],[8238,0.75],[8246,0.81],[8254,0.76],[8262,0.82],[8270,0.77],[8278,0.83],[8286,0.77],[8294,0.82],[8302,0.78],[8310,0.84],[8318,0.78],[8326,0.83],[8334,0.79],[8342,0.84],[8350,0.80],[8356,0.84],[8362,0.83]];

const synt = [[3500,0.84],[4165,0.65],[4200,0.66],[4240,0.69],[4267,0.73],[4290,0.80],[4306,0.88],[4325,0.94],[4335,0.96],[4341,0.97],[4348,0.95],[4360,0.87],[4375,0.78],[4395,0.70],[4420,0.64],[4461,0.60],[4490,0.57],[4520,0.556],[4657,0.53],[4690,0.535],[4715,0.56],[4750,0.60],[4784,0.66],[4813,0.82],[4835,0.98],[4850,1.10],[4862,1.14],[4875,1.05],[4890,0.88],[4905,0.76],[4920,0.70],[4940,0.69],[4955,0.78],[4970,0.98],[4985,1.30],[4998,1.55],[5004,1.59],[5012,1.50],[5025,1.20],[5040,0.85],[5055,0.65],[5076,0.52],[5095,0.46],[5115,0.44],[6305,0.26],[6320,0.31],[6340,0.38],[6355,0.46],[6370,0.56],[6385,0.68],[6400,0.82],[6415,1.00],[6430,1.22],[6445,1.46],[6460,1.72],[6475,1.95],[6490,2.15],[6505,2.45],[6520,2.85],[6535,3.45],[6548,4.30],[6556,4.65],[6563,4.82],[6570,4.68],[6578,4.40],[6590,3.60],[6605,2.80],[6620,2.30],[6635,1.98],[6650,1.65],[6665,1.38],[6680,1.18],[6695,1.00],[6710,0.88],[6724,0.78],[6740,0.66],[6755,0.55],[6775,0.42],[6800,0.31],[6820,0.24],[6835,0.20],[8362,0.06]];

const bFilter = [[3600,0],[3700,0.21],[3800,0.92],[3900,3.70],[4000,6.35],[4100,6.75],[4200,6.90],[4300,6.75],[4400,6.44],[4500,5.89],[4600,5.16],[4700,4.43],[4800,3.72],[4900,3.00],[5000,2.29],[5100,1.62],[5200,1.02],[5300,0.66],[5400,0.30],[5500,0.066],[5600,0]];

const xMajorTicks = [4000, 5000, 6000, 7000, 8000];
const yMajorTicks = [0, 2, 4, 6];
const seriesNames = ['SDSS', 'DSS+2.0', 'FBQS+1.0', 'BRIGHT+3.0', 'FAINT+4.0', 'SYNT-0.8', 'B filter'];

// ---- chart ----
const FONT = "'DejaVu Serif', 'Liberation Serif', serif";
const toXY = a => a.map(p => ({x: p[0], y: p[1]}));
const mk = (label, arr, color) => ({
  label, data: toXY(arr), borderColor: color, backgroundColor: color,
  borderWidth: 1.1, pointRadius: 0, pointHoverRadius: 0, fill: false,
  tension: 0, showLine: true, spanGaps: true
});

const annotations = [
  {text: 'B filter',   color: '#0000ff', x: 4608, y: 6.67, spacing: 2},
  {text: 'FAINT+4.0',  color: '#0000ff', x: 7005, y: 5.06, spacing: 0},
  {text: 'BRIGHT+3.0', color: '#00ffff', x: 7005, y: 4.06, spacing: 0},
  {text: 'DSS+2.0',    color: '#ff0000', x: 7005, y: 3.06, spacing: 0},
  {text: 'FBQS+1.0',   color: '#ff00ff', x: 7005, y: 2.06, spacing: 0},
  {text: 'SDSS',       color: '#000000', x: 7005, y: 1.06, spacing: 0},
  {text: 'SYNT-0.8',   color: '#00ff00', x: 7005, y: 0.46, spacing: 0}
];

const titleSpacing = {x: '1px', y: '2px'};

const framePlugin = {
  id: 'frame',
  beforeDraw(chart) {
    ['x', 'y'].forEach(id => {
      const s = chart.scales[id];
      if (s && !s._wrappedTitle) {
        const orig = s.drawTitle.bind(s);
        s.drawTitle = function () {
          const c = this.ctx;
          c.save();
          c.letterSpacing = titleSpacing[id];
          orig();
          c.restore();
        };
        s._wrappedTitle = true;
      }
    });
  },
  beforeDatasetsDraw(chart) {
    const {ctx, chartArea: a, scales: {y}} = chart;
    ctx.save();
    ctx.strokeStyle = '#444';
    ctx.lineWidth = 1;
    const y0 = Math.round(y.getPixelForValue(0)) + 0.5;
    ctx.beginPath(); ctx.moveTo(a.left, y0); ctx.lineTo(a.right, y0); ctx.stroke();
    ctx.restore();
  },
  afterDraw(chart) {
    const {ctx, chartArea: a, scales: {x, y}} = chart;
    ctx.save();
    ctx.strokeStyle = '#000';
    ctx.lineWidth = 1;
    const L = Math.round(a.left) + 0.5, R = Math.round(a.right) - 0.5;
    const T = Math.round(a.top) + 0.5, B = Math.round(a.bottom) - 0.5;
    ctx.beginPath();
    ctx.rect(L, T, R - L, B - T);
    ctx.stroke();
    ctx.beginPath();
    for (let v = 3600; v <= x.max; v += 200) {
      const px = Math.round(x.getPixelForValue(v)) + 0.5;
      const len = (v % 1000 === 0) ? 15 : 8;
      ctx.moveTo(px, B); ctx.lineTo(px, B - len);
      ctx.moveTo(px, T); ctx.lineTo(px, T + len);
    }
    for (let k = 0; k * 0.5 <= y.max; k++) {
      const v = k * 0.5;
      const py = Math.round(y.getPixelForValue(v)) + 0.5;
      const len = (k % 4 === 0) ? 16 : 8;
      ctx.moveTo(L, py); ctx.lineTo(L + len, py);
      ctx.moveTo(R, py); ctx.lineTo(R - len, py);
    }
    ctx.stroke();
    ctx.font = "22px " + FONT;
    ctx.textAlign = 'left';
    ctx.textBaseline = 'middle';
    annotations.forEach(an => {
      ctx.fillStyle = an.color;
      ctx.letterSpacing = an.spacing + 'px';
      ctx.fillText(an.text, x.getPixelForValue(an.x), y.getPixelForValue(an.y));
    });
    ctx.letterSpacing = '0px';
    ctx.restore();
  }
};

Chart.defaults.font.family = FONT;
Chart.defaults.color = '#000';

new Chart(document.getElementById('c'), {
  type: 'scatter',
  data: {
    datasets: [
      mk(seriesNames[0], sdss, '#000000'),
      mk(seriesNames[1], dss, '#ff0000'),
      mk(seriesNames[2], fbqs, '#ff00ff'),
      mk(seriesNames[3], bright, '#00ffff'),
      mk(seriesNames[4], faint, '#0000ff'),
      mk(seriesNames[5], synt, '#00ff00'),
      mk(seriesNames[6], bFilter, '#0000ff')
    ]
  },
  options: {
    responsive: false,
    animation: false,
    devicePixelRatio: 1,
    layout: {padding: {top: 13, right: 1, left: 0, bottom: 0}},
    plugins: {legend: {display: false}, tooltip: {enabled: false}},
    scales: {
      x: {
        type: 'linear', min: 3500, max: 8362,
        afterBuildTicks: s => { s.ticks = xMajorTicks.map(v => ({value: v})); },
        afterFit: s => { s.height = 67; s.paddingLeft = 0; s.paddingRight = 0; },
        grid: {display: false, drawTicks: false},
        border: {display: false},
        ticks: {font: {size: 22}, color: '#000', padding: 8, maxRotation: 0, autoSkip: false,
                callback: v => String(v)},
        title: {display: true, text: 'wavelength (A)', font: {size: 22}, color: '#000', padding: {top: 0, bottom: 2}}
      },
      y: {
        type: 'linear', min: -0.2, max: 7.0,
        afterBuildTicks: s => { s.ticks = yMajorTicks.map(v => ({value: v})); },
        afterFit: s => { s.width = 69; s.paddingTop = 0; s.paddingBottom = 0; },
        grid: {display: false, drawTicks: false},
        border: {display: false},
        ticks: {font: {size: 22}, color: '#000', padding: 15, autoSkip: false,
                callback: v => String(v)},
        title: {display: true, text: 'relative flux', font: {size: 22}, color: '#000', padding: {top: 10, bottom: 0}}
      }
    }
  },
  plugins: [framePlugin]
});
</script>
</body>
</html>
